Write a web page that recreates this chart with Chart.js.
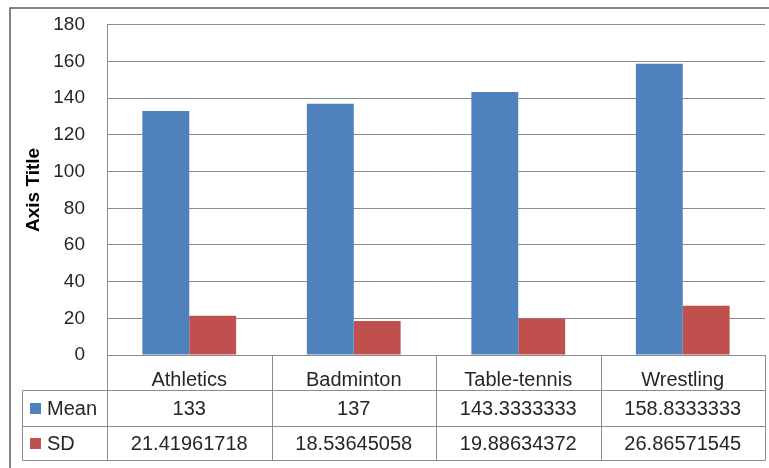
<!DOCTYPE html>
<html>
<head>
<meta charset="utf-8">
<script src="https://cdn.jsdelivr.net/npm/chart.js@4"></script>
<style>
  html, body { margin: 0; padding: 0; background: #fff; }
  #wrap { width: 769px; height: 468px; }
</style>
</head>
<body>
<div id="wrap"><canvas id="c" width="769" height="468"></canvas></div>
<script>
  const categories = ['Athletics', 'Badminton', 'Table-tennis', 'Wrestling'];
  const seriesNames = ['Mean', 'SD'];
  const meanValues = [133, 137, 143.3333333, 158.8333333];
  const sdValues = [21.41961718, 18.53645058, 19.88634372, 26.86571545];
  const yTicks = [0, 20, 40, 60, 80, 100, 120, 140, 160, 180];
  const colors = ['#4F81BD', '#C0504D'];

  const FONT = '"Liberation Sans", Arial, sans-serif';
  const TEXT = '#262626';
  const LINE = '#8c8c8c';

  // data table under the plot, plus outer frame
  const tablePlugin = {
    id: 'dataTable',
    beforeDraw(chart) {
      const ctx = chart.ctx;
      ctx.save();
      ctx.strokeStyle = '#5a5a5a';
      ctx.lineWidth = 1.5;
      ctx.strokeRect(10, 8, 800, 500);
      ctx.restore();
    },
    afterDraw(chart) {
      const ctx = chart.ctx;
      const area = chart.chartArea;
      const xs = chart.scales.x;
      const w = (area.right - area.left) / categories.length;
      const top = Math.round(area.bottom) + 0.5;
      const rowH = 35;
      const r1 = top + rowH, r2 = r1 + rowH + 1, r3 = r2 + rowH - 1;
      const headL = 22.5;
      const right = Math.round(area.right) + 0.5;

      ctx.save();
      ctx.strokeStyle = LINE;
      ctx.lineWidth = 1;
      ctx.beginPath();
      // horizontal rules
      [r1, r2, r3].forEach(y => { ctx.moveTo(headL, y); ctx.lineTo(right, y); });
      // vertical rules
      for (let i = 0; i <= categories.length; i++) {
        const x = Math.round(area.left + i * w) + 0.5;
        ctx.moveTo(x, top); ctx.lineTo(x, r3);
      }
      ctx.moveTo(headL, r1); ctx.lineTo(headL, r3);
      ctx.stroke();

      ctx.font = '20px ' + FONT;
      ctx.fillStyle = TEXT;
      ctx.textBaseline = 'middle';
      const rows = [meanValues, sdValues];
      const ys = [(r1 + r2) / 2, (r2 + r3) / 2];
      rows.forEach((vals, r) => {
        // legend key + series name
        ctx.fillStyle = colors[r];
        ctx.fillRect(30, ys[r] - 5.5, 11, 11);
        ctx.fillStyle = TEXT;
        ctx.textAlign = 'left';
        ctx.fillText(seriesNames[r], 47, ys[r] + 1);
        ctx.textAlign = 'center';
        vals.forEach((v, i) => {
          ctx.fillText(String(v), xs.getPixelForValue(i), ys[r] + 1);
        });
      });
      ctx.restore();
    }
  };

  new Chart(document.getElementById('c'), {
    type: 'bar',
    data: {
      labels: categories,
      datasets: [
        { label: seriesNames[0], data: meanValues, backgroundColor: colors[0] },
        { label: seriesNames[1], data: sdValues, backgroundColor: colors[1] }
      ]
    },
    options: {
      responsive: false,
      animation: false,
      events: [],
      layout: { padding: { top: 0, right: 4, bottom: 0, left: 0 } },
      datasets: { bar: { categoryPercentage: 0.57, barPercentage: 1 } },
      plugins: { legend: { display: false }, tooltip: { enabled: false } },
      scales: {
        x: {
          grid: { display: false },
          border: { display: true, color: LINE, width: 1 },
          ticks: { color: TEXT, font: { family: FONT, size: 20 }, padding: 5, maxRotation: 0 },
          afterFit(scale) { scale.height = 113; }
        },
        y: {
          min: 0,
          max: 180,
          afterBuildTicks(scale) { scale.ticks = yTicks.map(v => ({ value: v })); },
          grid: { color: LINE, drawTicks: false },
          border: { display: true, color: LINE, width: 1 },
          // small lineHeight keeps the top padding (label half-height + tick padding) at ~25px
          ticks: { color: TEXT, font: { family: FONT, size: 19, lineHeight: 0.3 }, padding: 22 },
          title: {
            display: true,
            text: 'Axis Title',
            color: '#000',
            font: { family: FONT, size: 19, weight: 'bold' },
            padding: { top: 22, bottom: 0 }
          },
          afterFit(scale) { scale.width = 107; }
        }
      }
    },
    plugins: [tablePlugin]
  });
</script>
</body>
</html>
